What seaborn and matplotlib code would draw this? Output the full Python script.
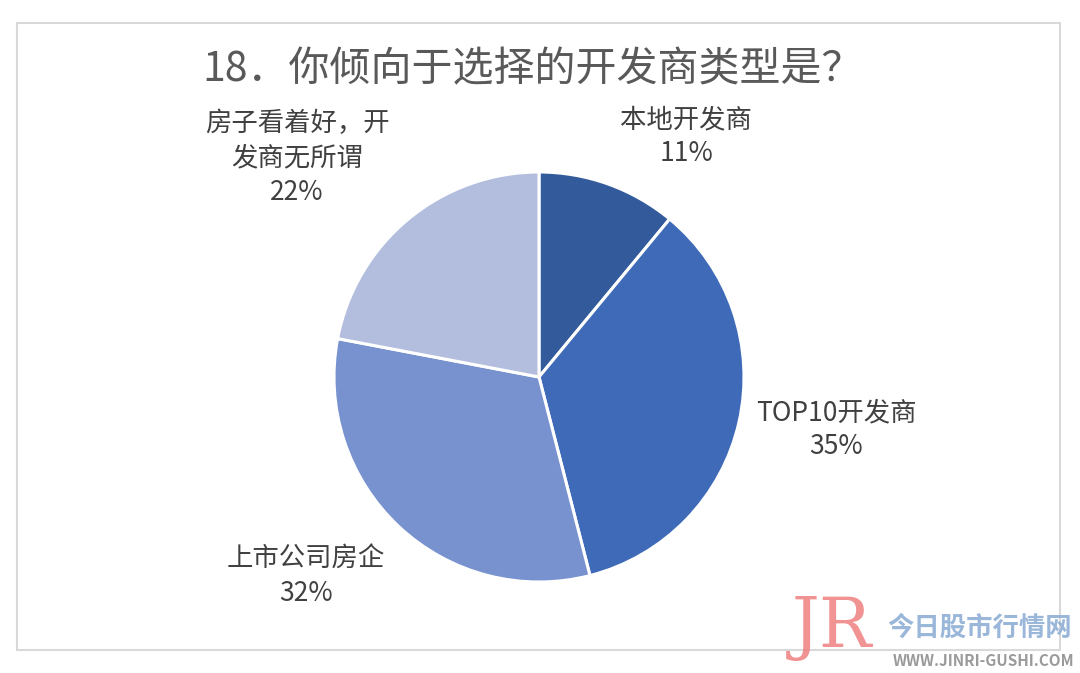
import matplotlib
matplotlib.use("Agg")
import matplotlib.pyplot as plt
import seaborn as sns
from matplotlib.patches import Rectangle

categories = ["本地开发商", "TOP10开发商", "上市公司房企", "房子看着好，开\n发商无所谓"]
values = [11, 35, 32, 22]
pct_labels = ["11%", "35%", "32%", "22%"]
colors = ["#335A9A", "#3E6AB7", "#7891CF", "#B3BEDE"]
title = "18．你倾向于选择的开发商类型是？"

sns.set_theme(style="white")
plt.rcParams['font.family'] = ['Noto Sans CJK SC', 'DejaVu Sans']

W, H = 1080, 673
fig = plt.figure(figsize=(W / 100, H / 100), dpi=100)
ax = fig.add_axes([0, 0, 1, 1])
ax.set_xlim(0, W)
ax.set_ylim(0, H)
ax.set_aspect('equal')
ax.axis('off')

def py(y):
    return H - y

# frame
ax.add_patch(Rectangle((17, py(650)), 1043, 627, fill=False, edgecolor="#D9D9D9", linewidth=1.5))

# pie
ax.pie(values, colors=colors, startangle=90, counterclock=False,
       center=(539, py(377)), radius=205,
       wedgeprops=dict(edgecolor="white", linewidth=2.2))
ax.set_xlim(0, W)
ax.set_ylim(0, H)

# title
ax.text(533, py(70), title, ha="center", va="center", fontsize=29.5, color="#595959", fontweight="light")

# data labels
label_pos = [(686, 106), (836, 399), (306, 546), (297, 110)]
for (x, y), cat, pct in zip(label_pos, categories, pct_labels):
    ax.text(x, py(y), cat + "\n" + pct, ha="center", va="top", fontsize=19,
            color="#404040", linespacing=1.35, fontweight="light")

# watermark
ax.text(832, py(628), "JR", ha="center", va="center", fontsize=50, color="#F08080",
        family=["DejaVu Serif"], alpha=0.85)
ax.text(980, py(628), "今日股市行情网", ha="center", va="center", fontsize=19,
        color="#8FAFD6", fontweight="bold", alpha=0.9)
ax.text(984, py(661), "WWW.JINRI-GUSHI.COM", ha="center", va="center", fontsize=11,
        color="#9A9A9A", fontweight="bold")

fig.savefig("out.png", dpi=100)
